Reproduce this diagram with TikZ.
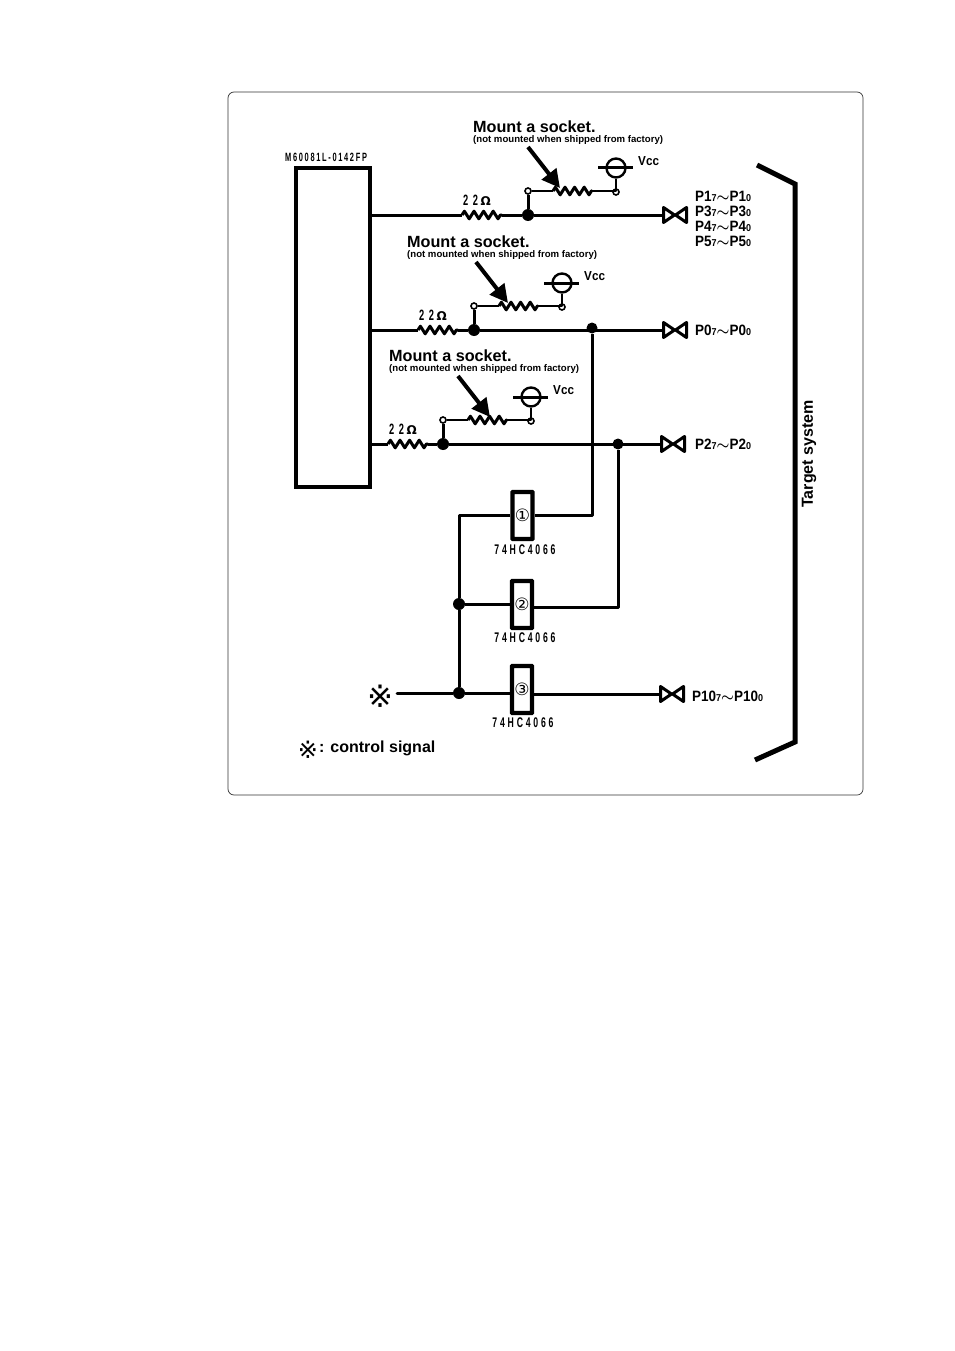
\documentclass[tikz,border=0pt]{standalone}
\usepackage{fontspec}
\setmainfont{Liberation Sans}
\newfontfamily\narrowfont[FakeStretch=0.9]{Liberation Sans}
\newfontfamily\chipfont[FakeStretch=0.62,LetterSpace=14]{Liberation Sans}
\newfontfamily\icfont[FakeStretch=0.62,LetterSpace=20]{Liberation Sans}
\newfontfamily\ohmfont[FakeStretch=0.62,LetterSpace=30]{Liberation Sans}
\newfontfamily\symfont{DejaVu Sans}
\usetikzlibrary{arrows.meta,calc,decorations.pathmorphing}
\tikzset{
  wire/.style={line width=3pt,line join=round},
  thinwire/.style={line width=2.8pt,line join=round},
  zig/.style={wire,decorate,decoration={zigzag,segment length=9.6pt,amplitude=3.8pt}},
  dot/.style={circle,fill=black,inner sep=0pt,minimum size=12pt},
  opendot/.style={circle,draw,fill=white,line width=1.6pt,inner sep=0pt,minimum size=6pt},
  switchbox/.style={draw,line width=4.4pt,rounded corners=0.5pt,inner sep=0pt,minimum width=20pt,minimum height=47pt,font=\symfont\fontsize{17}{17}\selectfont},
  chiplabel/.style={font=\chipfont\bfseries\fontsize{12}{12}\selectfont,inner sep=0pt},
  iclabel/.style={font=\icfont\bfseries\fontsize{14}{14}\selectfont,inner sep=0pt},
  ohmlabel/.style={font=\ohmfont\bfseries\fontsize{15}{15}\selectfont,inner sep=0pt},
  portlabel/.style={font=\narrowfont\bfseries\fontsize{15}{15}\selectfont,inner sep=0pt,anchor=west},
  head/.style={font=\bfseries\fontsize{16.2}{16.2}\selectfont,inner sep=0pt,anchor=west},
  subhead/.style={font=\bfseries\fontsize{9.6}{9.6}\selectfont,inner sep=0pt,anchor=west}
}
\newcommand \mysub[1]{{\fontsize{10}{10}\selectfont #1}}
\newcommand \myrange[1]{#1\mysub{7}{\boldmath$\sim$}#1\mysub{0}}
% valve: #1 name, #2 left end x, #3 y
\newcommand \myvalve[3]
{
\coordinate (#1) at (#2,#3);
\draw[line width=3pt,line join=round,fill=white] (#2+1.5,#3-7.5)--(#2+1.5,#3+7.5)--(#2+12.5,#3)--cycle;
\draw[line width=3pt,line join=round,fill=white] (#2+24.5,#3-7.5)--(#2+24.5,#3+7.5)--(#2+13.5,#3)--cycle;
}
% socket branch: #1 name, #2 dot x, #3 y, #4 resistor x, #5 arrow x, #6 text x
\newcommand \mydrawbranch[6]
{
\node[dot] (#1dot) at (#2,#3) {};
\node[opendot] (#1a) at (#2,#3-24) {};
\node[opendot] (#1b) at (#2+88,#3-23) {};
\node[circle,draw,line width=2.4pt,inner sep=0pt,minimum size=19pt] (#1vcc) at (#2+88,#3-47) {};
\coordinate (#1r1) at (#4,#3);
\coordinate (#1r2) at (#4+40,#3);
\coordinate (#1s1) at (#2+25,#3-24);
\coordinate (#1s2) at (#2+64,#3-24);
\coordinate (#1bl) at (#2+70,#3-47);
\coordinate (#1br) at (#2+105,#3-47);
\coordinate (#1t1) at (#5,#3-68);
\coordinate (#1t2) at (#5+32,#3-27);
\draw[wire] (chip.east |- #1r1)--(#1r1);
\draw[zig] (#1r1)--(#1r2);
\draw[wire] (#1r2)--(#1dot);
\draw[wire] (#1dot)--(#1a);
\draw[thinwire] (#1a)--(#1s1);
\draw[zig] (#1s1)--(#1s2);
\draw[thinwire] (#1s2)--(#1b |- #1s2)--(#1b);
\draw[thinwire] (#1b)--(#1vcc);
\draw[wire] (#1bl)--(#1br);
\draw[-{Triangle[length=18pt,width=18pt]},line width=4pt] (#1t1)--(#1t2);
\node[head] (#1head) at (#6,#3-88.5) {Mount a socket.};
\node[subhead] (#1sub) at (#6,#3-74.5) {(not mounted when shipped from factory)};
\node[anchor=west,inner sep=0pt,font=\narrowfont\bfseries\fontsize{13}{13}\selectfont] (#1lbl) at (#2+110,#3-54) {Vcc};
\node[ohmlabel] (#1ohm) at (#4+15,#3-15) {22\,{\symfont\bfseries\fontsize{12}{12}\selectfont Ω}};
}
\begin{document}
\begin{tikzpicture}[x=1pt,y=-1pt]
\useasboundingbox (0,0) rectangle (954,1351);
\draw[line width=0.7pt,rounded corners=6pt,draw=black!80] (228,92) rectangle (863,795);
\node[draw,line width=4.4pt,inner sep=0pt,minimum width=74pt,minimum height=319pt] (chip) at (333,327.5) {};
\node[chiplabel,anchor=west] (chipname) at (285,157) {M60081L-0142FP};
\mydrawbranch{a}{528}{215}{462}{528}{473}
\mydrawbranch{b}{474}{330}{418}{476}{407}
\mydrawbranch{c}{443}{444}{388}{458}{389}
\myvalve{va}{662}{215}
\myvalve{vb}{662}{330}
\myvalve{vc}{660}{444}
\myvalve{vd}{659}{694}
\draw[wire] (adot)--(va);
\draw[wire] (bdot)--(vb);
\draw[wire] (cdot)--(vc);
\node[portlabel] (pa1) at (695,196) {\myrange{P1}};
\node[portlabel] (pa2) at (695,211) {\myrange{P3}};
\node[portlabel] (pa3) at (695,226) {\myrange{P4}};
\node[portlabel] (pa4) at (695,241) {\myrange{P5}};
\node[portlabel] (pb) at (695,330) {\myrange{P0}};
\node[portlabel] (pc) at (695,444) {\myrange{P2}};
\node[portlabel] (pd) at (692,696) {\myrange{P10}};
\node[switchbox] (sw1) at (522.5,515.5) {\raisebox{-1.5pt}{①}};
\node[switchbox] (sw2) at (522,604.5) {\raisebox{-3.5pt}{②}};
\node[switchbox] (sw3) at (522,689.5) {\raisebox{-4.5pt}{③}};
\node[iclabel] (ic1) at (525,550) {74HC4066};
\node[iclabel] (ic2) at (525,638) {74HC4066};
\node[iclabel] (ic3) at (523,723) {74HC4066};
\node[dot,minimum size=11pt] (jb) at (592,328) {};
\node[dot,minimum size=11pt] (jc) at (618,444) {};
\node[dot,minimum size=12pt] (j2) at (459,604) {};
\node[dot,minimum size=12pt] (j3) at (459,693) {};
\coordinate (in) at (397,693);
\node[inner sep=0pt,font=\symfont\fontsize{31}{31}\selectfont] (mark) at (380,696) {※};
\draw[wire] (jb)--(jb |- sw1.east)--(sw1.east);
\draw[wire] (jc)--(jc |- 0,607)--(sw2.east |- 0,607);
\draw[wire] (sw1.west)--(j2 |- sw1.west)--(j2);
\draw[wire] (j2)--(j3);
\draw[wire] (j2)--(j2 -| sw2.west);
\draw[wire,line cap=round] (in)--(j3);
\draw[wire] (j3)--(j3 -| sw3.west);
\draw[wire] (sw3.east |- vd)--(vd);
\draw[line width=5pt] (757,165)--(795,184)--(795,742)--(755,760);
\node[rotate=90,inner sep=0pt,font=\bfseries\fontsize{16}{16}\selectfont] (target) at (809,454) {Target system};
\node[inner sep=0pt,font=\symfont\fontsize{24}{24}\selectfont] (markb) at (308,750) {※};
\node[inner sep=0pt,anchor=west,font=\bfseries\fontsize{16}{16}\selectfont] (ctrl) at (319,748) {: control signal};
\end{tikzpicture}
\end{document}
